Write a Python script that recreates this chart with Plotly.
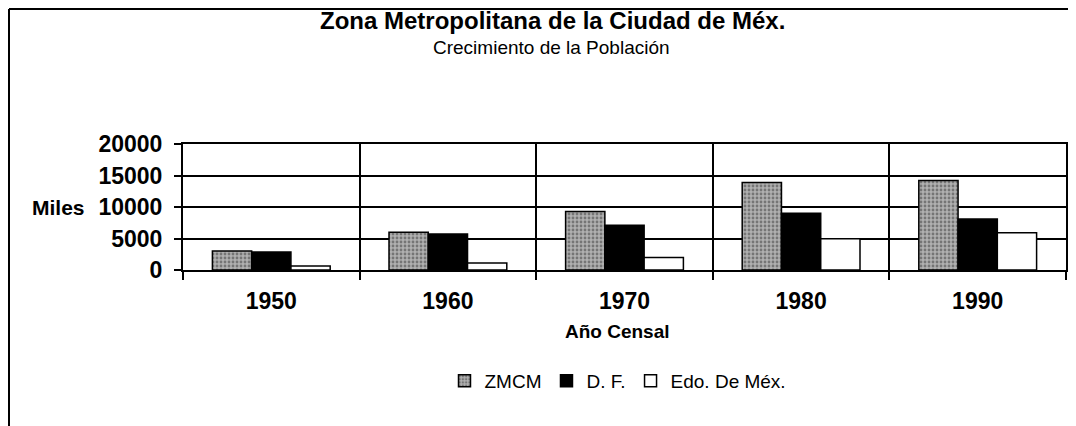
import plotly.graph_objects as go

years = ["1950", "1960", "1970", "1980", "1990"]
zmcm = [3000, 6000, 9300, 13900, 14200]
df = [2850, 5700, 7100, 9000, 8100]
edo = [630, 1100, 2000, 4950, 5900]
y_ticks = [0, 5000, 10000, 15000, 20000]

FONT = "Liberation Sans, Arial, sans-serif"

fig = go.Figure()
fig.add_trace(go.Bar(
    x=years, y=zmcm, name="ZMCM",
    marker=dict(color="#b0b0b0", line=dict(color="black", width=1.5),
                pattern=dict(shape=".", fgcolor="#3a3a3a", size=4, solidity=0.4,
                             fillmode="overlay")),
))
fig.add_trace(go.Bar(
    x=years, y=df, name="D. F.",
    marker=dict(color="black", line=dict(color="black", width=1.5)),
))
fig.add_trace(go.Bar(
    x=years, y=edo, name="Edo. De Méx.",
    marker=dict(color="white", line=dict(color="black", width=1.5)),
))

OFF = 8  # browser body margin
W, H = 1076 - OFF, 426 - OFF
L, R, T, B = 183 - OFF, 1066 - OFF, 144 - OFF, 270 - OFF
pw, ph = R - L, B - T

def px(x):
    return (x - OFF - L) / pw

def py(y):
    return (B - (y - OFF)) / ph

fig.update_layout(
    template="none",
    width=W, height=H,
    margin=dict(l=L, r=W - R, t=T, b=H - B, pad=0, autoexpand=False),
    paper_bgcolor="white", plot_bgcolor="white",
    barmode="group", bargap=0.333, bargroupgap=0,
    font=dict(family=FONT, color="black"),
    showlegend=True,
    legend=dict(orientation="h", x=px(618), y=py(381), xanchor="center", yanchor="middle",
                font=dict(size=19, family=FONT), itemwidth=30, tracegroupgap=0,
                bgcolor="rgba(0,0,0,0)", borderwidth=0),
    xaxis=dict(
        type="category", tickson="boundaries", showgrid=True, gridcolor="black", gridwidth=2,
        showline=True, linecolor="black", linewidth=2, mirror=True, automargin=False,
        ticks="outside", ticklen=8, tickwidth=2, tickcolor="black",
        tickfont=dict(size=23, family=FONT, weight="bold"), ticklabelstandoff=9,
    ),
    yaxis=dict(
        range=[0, 20000], tickvals=y_ticks, ticktext=[str(v) for v in y_ticks],
        showgrid=True, gridcolor="black", gridwidth=2, zeroline=False,
        showline=True, linecolor="black", linewidth=2, mirror=True, automargin=False,
        ticks="outside", ticklen=7, tickwidth=2, tickcolor="black",
        tickfont=dict(size=23, family=FONT, weight="bold"), ticklabelstandoff=7,
    ),
)

annotations = [
    dict(text="<b>Zona Metropolitana de la Ciudad de Méx.</b>", x=px(552), y=py(20),
         font=dict(size=24, family=FONT)),
    dict(text="Crecimiento de la Población", x=px(551), y=py(47),
         font=dict(size=19, family=FONT)),
    dict(text="<b>Año Censal</b>", x=px(617), y=py(331), font=dict(size=19, family=FONT)),
]
for a in annotations:
    a.update(xref="paper", yref="paper", xanchor="center", yanchor="middle", showarrow=False)
fig.update_layout(annotations=annotations)
fig.add_annotation(text="<b>Miles</b>", xref="paper", yref="y", x=px(87), y=10000,
                   xanchor="right", yanchor="middle", showarrow=False,
                   font=dict(size=21, family=FONT))

# outer frame (left and top edges visible in the scan)
fig.add_shape(type="line", xref="paper", yref="paper", x0=px(9), x1=px(9), y0=py(426), y1=py(9),
              line=dict(color="black", width=2))
fig.add_shape(type="line", xref="paper", yref="paper", x0=px(9), x1=px(1076), y0=py(9), y1=py(9),
              line=dict(color="black", width=2))

fig.write_html("out.html")
